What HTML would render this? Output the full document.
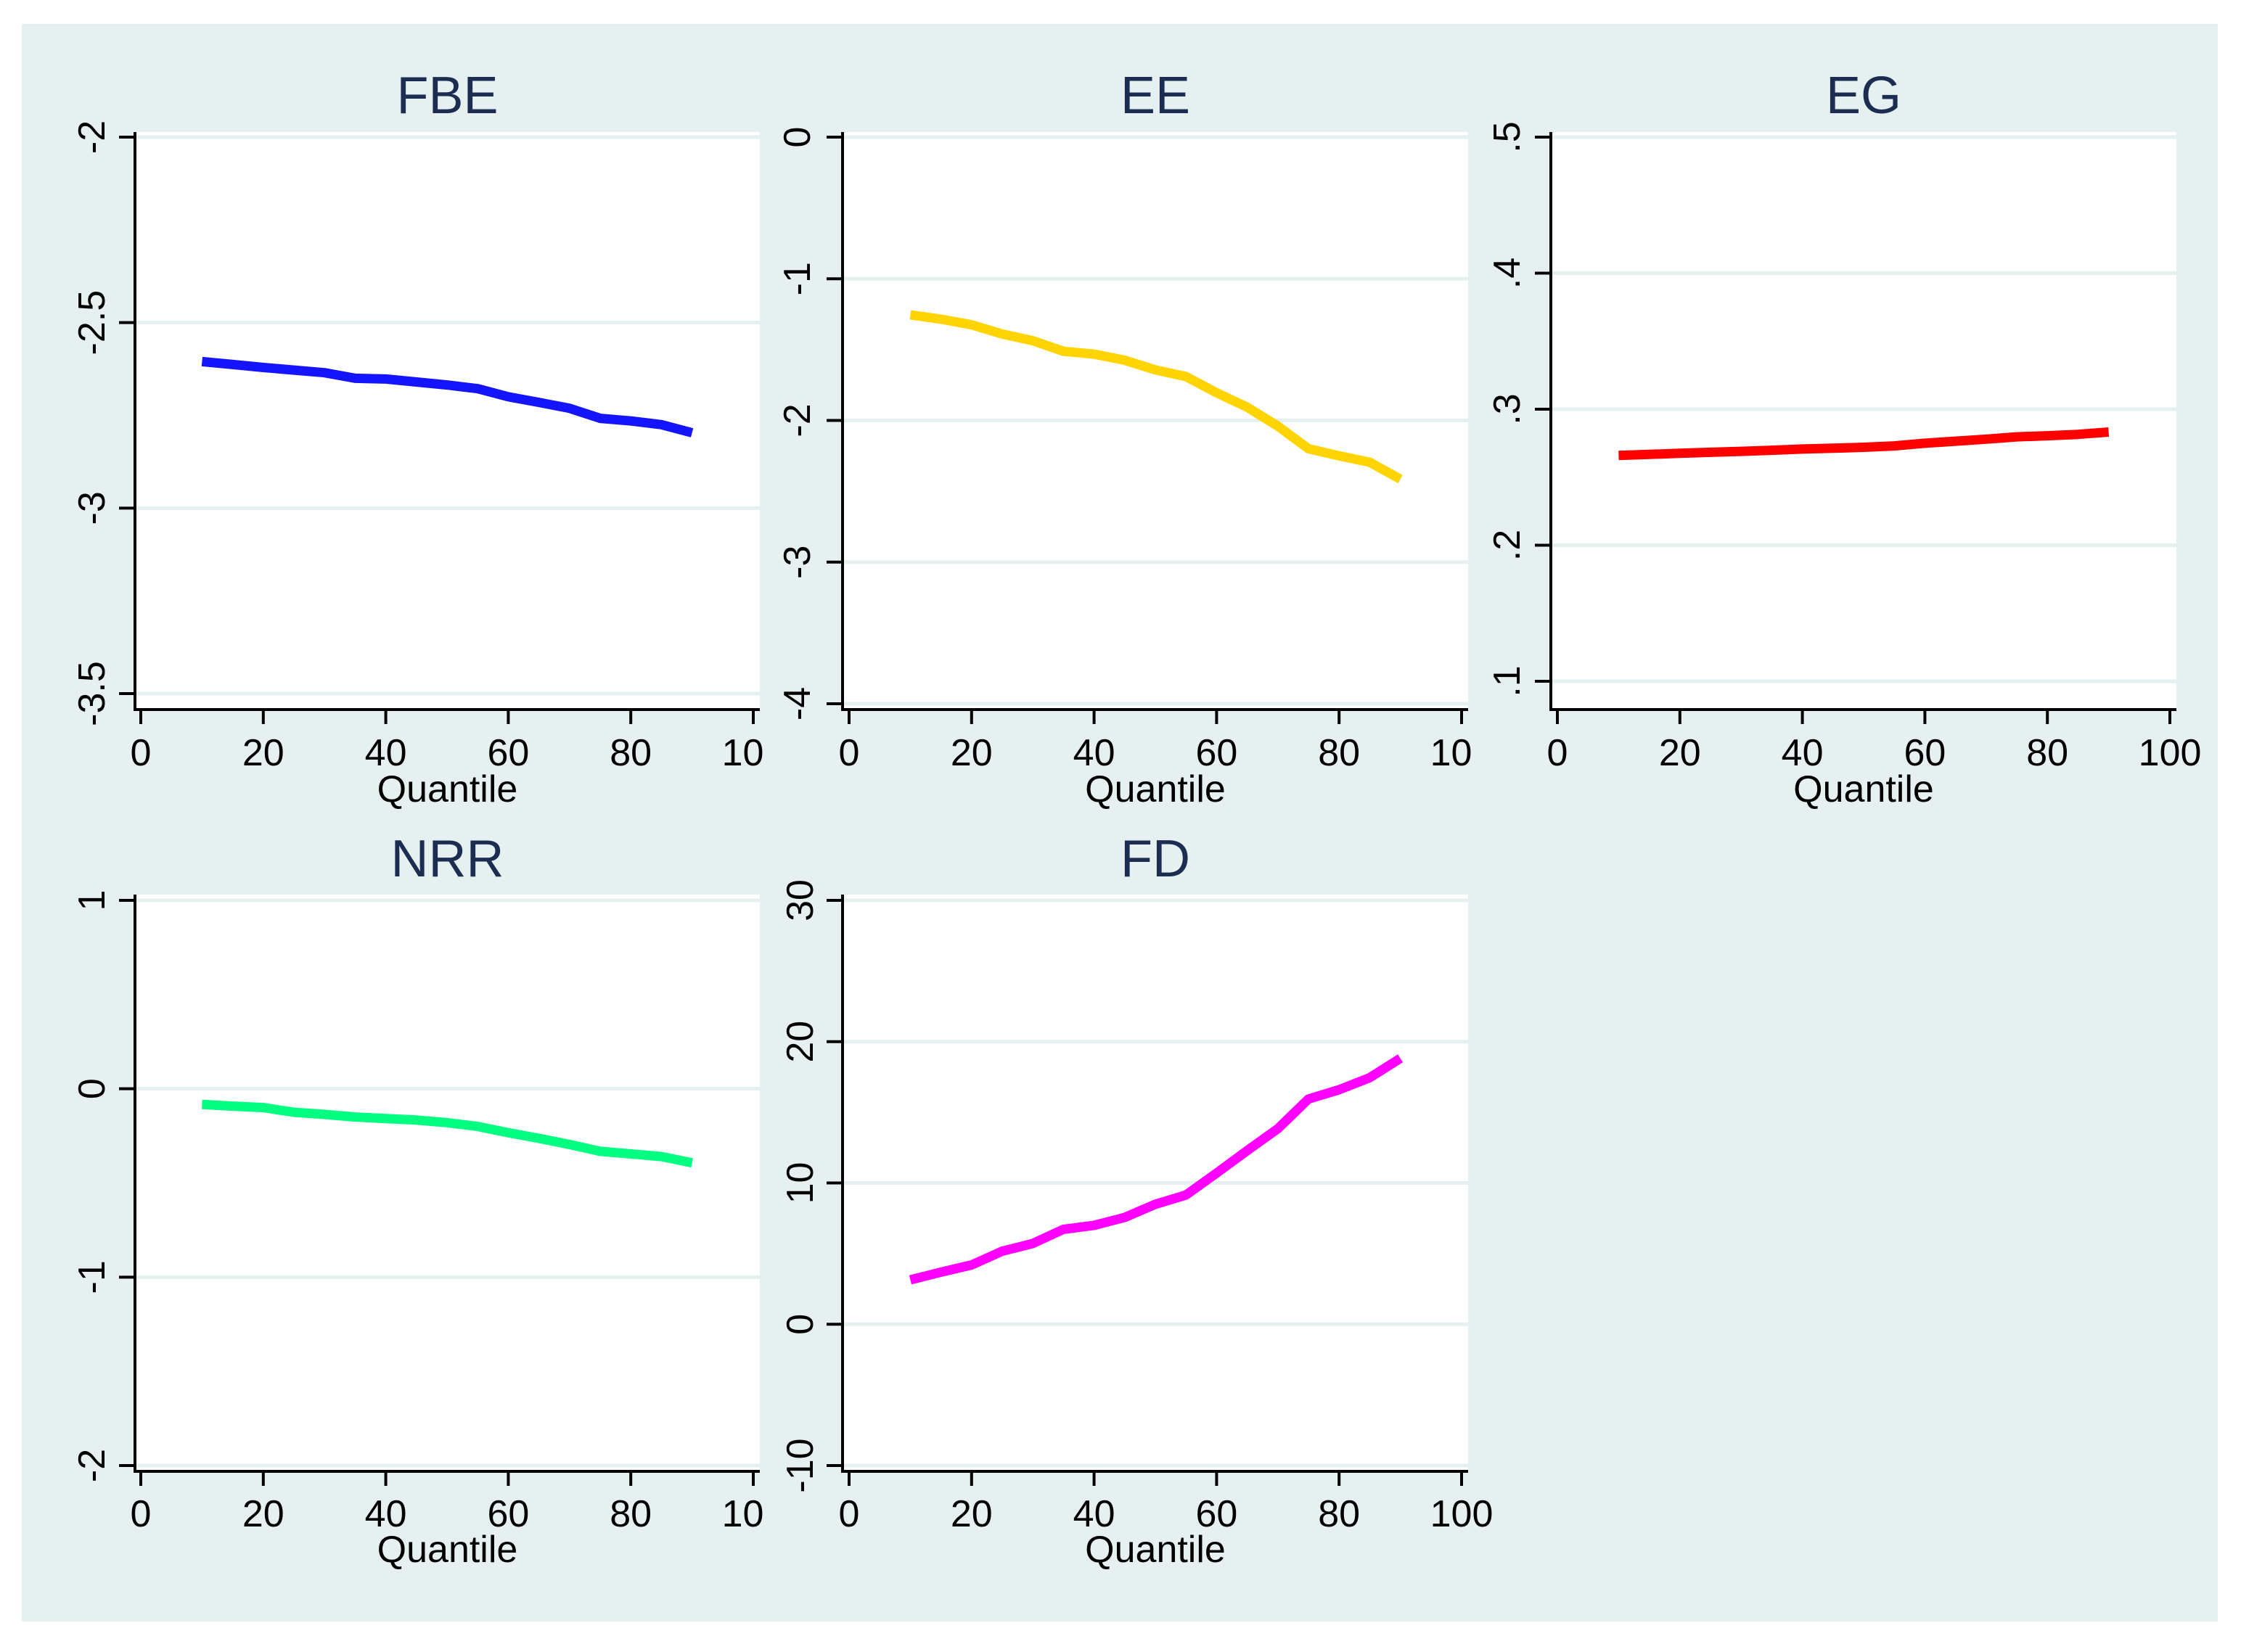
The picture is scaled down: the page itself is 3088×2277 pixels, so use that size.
<!DOCTYPE html>
<html><head><meta charset="utf-8"><style>
html,body{margin:0;padding:0;background:#fff;}
svg{display:block;font-family:"Liberation Sans",Arial,sans-serif;}
</style></head><body>
<svg id="chart" width="3088" height="2277" viewBox="0 0 3088 2277" xmlns="http://www.w3.org/2000/svg">
<rect x="30" y="33" width="3026" height="2202" fill="#e6f0f0"/>
</svg>
<script>
// Data
const quantiles = [10,15,20,25,30,35,40,45,50,55,60,65,70,75,80,85,90];
const fbeValues = [-2.605,-2.613,-2.621,-2.628,-2.635,-2.65,-2.652,-2.66,-2.668,-2.678,-2.70,-2.715,-2.731,-2.758,-2.765,-2.775,-2.797];
const eeValues = [-1.255,-1.285,-1.325,-1.39,-1.437,-1.512,-1.532,-1.575,-1.643,-1.69,-1.805,-1.907,-2.04,-2.2,-2.25,-2.295,-2.415];
const egValues = [0.266,0.2668,0.2676,0.2683,0.269,0.2698,0.2707,0.2713,0.272,0.273,0.275,0.2765,0.278,0.2797,0.2805,0.2815,0.2832];
const nrrValues = [-0.083,-0.092,-0.10,-0.125,-0.136,-0.15,-0.158,-0.166,-0.18,-0.2,-0.233,-0.263,-0.296,-0.332,-0.346,-0.36,-0.393];
const fdValues = [3.14,3.69,4.2,5.17,5.72,6.72,7.0,7.56,8.49,9.15,10.7,12.29,13.84,15.94,16.6,17.45,18.82];
const xTicks = [0,20,40,60,80,100];
const fbeTicks = [-2,-2.5,-3,-3.5];
const fbeTickLabels = ["-2","-2.5","-3","-3.5"];
const eeTicks = [0,-1,-2,-3,-4];
const eeTickLabels = ["0","-1","-2","-3","-4"];
const egTicks = [0.5,0.4,0.3,0.2,0.1];
const egTickLabels = [".5",".4",".3",".2",".1"];
const nrrTicks = [1,0,-1,-2];
const nrrTickLabels = ["1","0","-1","-2"];
const fdTicks = [30,20,10,0,-10];
const fdTickLabels = ["30","20","10","0","-10"];

const NS = "http://www.w3.org/2000/svg";
const svg = document.getElementById('chart');
function mk(tag, attrs, parent){const e=document.createElementNS(NS,tag);for(const k in attrs)e.setAttribute(k,attrs[k]);(parent||svg).appendChild(e);return e;}

const panels = [
 {key:'fbe',title:'FBE',vals:fbeValues,ticks:fbeTicks,labels:fbeTickLabels,color:'#1414ff',L:186,T:182,R:1047,B:978,x0:194,x100:1038,ymax:-2,yminv:-3.5,ytop:189,ybot:956,lblX:144,titleY:156,tickY:1055,qY:1105,clip:true},
 {key:'ee',title:'EE',vals:eeValues,ticks:eeTicks,labels:eeTickLabels,color:'#ffd400',L:1161,T:182,R:2023,B:978,x0:1170,x100:2014,ymax:0,yminv:-4,ytop:189,ybot:970,lblX:1116,titleY:156,tickY:1055,qY:1105,clip:true},
 {key:'eg',title:'EG',vals:egValues,ticks:egTicks,labels:egTickLabels,color:'#ff0000',L:2137,T:182,R:2999,B:978,x0:2146,x100:2990,ymax:0.5,yminv:0.1,ytop:189,ybot:939,lblX:2094,titleY:156,tickY:1055,qY:1105,clip:false},
 {key:'nrr',title:'NRR',vals:nrrValues,ticks:nrrTicks,labels:nrrTickLabels,color:'#00ff80',L:186,T:1233,R:1047,B:2028,x0:194,x100:1038,ymax:1,yminv:-2,ytop:1241,ybot:2020,lblX:144,titleY:1208,tickY:2104,qY:2153,clip:true},
 {key:'fd',title:'FD',vals:fdValues,ticks:fdTicks,labels:fdTickLabels,color:'#ff00ff',L:1161,T:1233,R:2023,B:2028,x0:1170,x100:2014,ymax:30,yminv:-10,ytop:1241,ybot:2020,lblX:1120,titleY:1208,tickY:2104,qY:2153,clip:false}
];

panels.forEach(p=>{
  const xs = v => p.x0 + (p.x100-p.x0)*v/100;
  const ys = v => p.ytop + (p.ymax - v)/(p.ymax - p.yminv)*(p.ybot-p.ytop);
  const g = mk('g',{});
  
  
  const bg = mk('rect',{x:p.L,y:p.T,width:p.R-p.L,height:p.B-p.T,fill:'#ffffff'},g);
  
  
  const cx = (p.L+p.R)/2;
  const t = mk('text',{x:cx,y:p.titleY,'text-anchor':'middle','font-size':72,fill:'#1c2d52'},g);
  t.textContent = p.title;
  
  
  p.ticks.forEach((v,i)=>{
    const y = ys(v);
    const gl = mk('line',{x1:p.L,x2:p.R,y1:y,y2:y,stroke:'#e6f0f0','stroke-width':5},g);
    
    
    const tk = mk('line',{x1:p.L-22,x2:p.L,y1:y,y2:y,stroke:'#000','stroke-width':4},g);
    
    
    const lb = mk('text',{x:p.lblX,y:y,'text-anchor':'middle','font-size':52,fill:'#000',transform:`rotate(-90 ${p.lblX} ${y})`},g);
    lb.textContent = p.labels[i];
    
    
  });
  let clipId=null;
  if(p.clip){
    clipId = 'clip-'+p.key;
    const cp = mk('clipPath',{id:clipId},g);
    mk('rect',{x:p.L-100,y:0,width:p.R-p.L+106,height:3000},cp);
  }
  xTicks.forEach(v=>{
    const x = xs(v);
    const tk = mk('line',{x1:x,x2:x,y1:p.B,y2:p.B+20,stroke:'#000','stroke-width':4},g);
    
    
    const lb = mk('text',{x:x,y:p.tickY,'text-anchor':'middle','font-size':52,fill:'#000'},g);
    if(clipId) lb.setAttribute('clip-path','url(#'+clipId+')');
    lb.textContent = String(v);
    
    
  });
  const ax = mk('path',{d:`M${p.L} ${p.T} V${p.B} H${p.R}`,fill:'none',stroke:'#000','stroke-width':4},g);
  
  
  const xt = mk('text',{x:cx,y:p.qY,'text-anchor':'middle','font-size':52,fill:'#000'},g);
  xt.textContent = 'Quantile';
  
  
  const d = quantiles.map((q,i)=>(i?'L':'M')+xs(q).toFixed(1)+' '+ys(p.vals[i]).toFixed(1)).join(' ');
  const ln = mk('path',{d:d,fill:'none',stroke:p.color,'stroke-width':13,'stroke-linejoin':'round'},g);
  
  
});
</script>
</body></html>
